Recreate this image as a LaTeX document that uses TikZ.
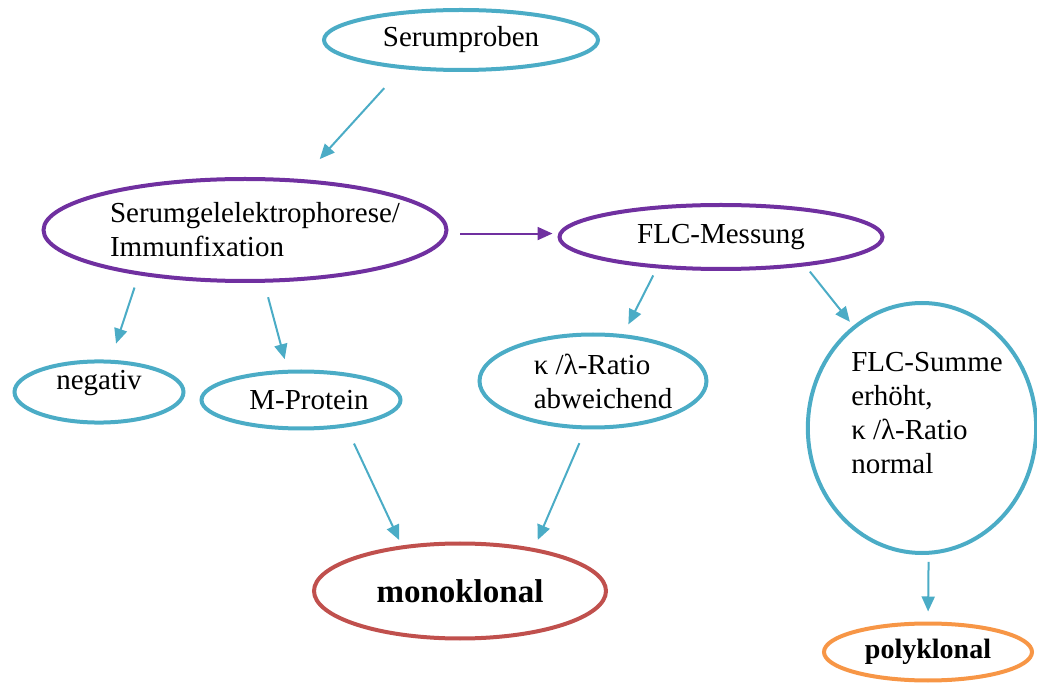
\documentclass[tikz,border=0pt]{standalone}
\usepackage{fontspec}
\setmainfont{Liberation Serif}
\usepackage{tikz}
\usetikzlibrary{shapes.geometric,arrows.meta}
\definecolor{aqua}{HTML}{4BACC6}
\definecolor{lila}{HTML}{7030A0}
\definecolor{rotbraun}{HTML}{C0504D}
\definecolor{orangeo}{HTML}{F79646}

\begin{document}
\begin{tikzpicture}[x=1pt,y=-1pt,
    oval/.style={ellipse,draw=aqua,line width=4pt,inner sep=0pt,
        font=\fontsize{29}{34}\selectfont},
    pfeil/.style={-{Triangle[length=15pt,width=13pt]},aqua,line width=2pt}]
    \useasboundingbox (0,0) rectangle (1037,684);
    \begin{scope} % Proben und Elektrophorese
        \node[oval,minimum width=274pt,minimum height=60pt] (serum) at (461,40) {Serumproben};
        \node[oval,draw=lila,align=left,inner xsep=-30pt,minimum width=403pt,minimum height=102pt]
            (gel) at (245,230) {\hspace*{20pt}Serumgelelektrophorese/\\\hspace*{20pt}Immunfixation};
        \node[oval,draw=lila,minimum width=323pt,minimum height=64pt] (flc) at (721,237) {FLC-Messung};
    \end{scope}
    \begin{scope} % Befunde
        \node[oval,minimum width=169pt,minimum height=55pt,text depth=24pt] (neg) at (99,392) {negativ};
        \node[oval,minimum width=199pt,minimum height=57pt] (mprot) at (301,400) {\hspace*{16pt}M-Protein};
        \node[oval,align=left,minimum width=227pt,minimum height=93pt]
            (ratio) at (593,381) {\hspace*{20pt}κ /λ-Ratio\\\hspace*{20pt}abweichend};
        \node[oval,align=left,minimum width=228pt,minimum height=250pt,text depth=30pt]
            (summe) at (922,428) {\hspace*{10pt}FLC-Summe\\\hspace*{10pt}erhöht,\\\hspace*{10pt}κ /λ-Ratio\\\hspace*{10pt}normal};
    \end{scope}
    \begin{scope} % Ergebnis
        \node[oval,draw=rotbraun,minimum width=292pt,minimum height=95pt,
            font=\fontsize{33}{40}\selectfont\bfseries] (mono) at (460,591) {monoklonal};
        \node[oval,draw=orangeo,minimum width=208pt,minimum height=57pt,
            font=\fontsize{28}{34}\selectfont\bfseries] (poly) at (928,652) {polyklonal};
    \end{scope}
    \begin{scope} % Pfeile
        \draw[pfeil,shorten <=26pt,shorten >=27pt] (serum.206) -- (gel.42);
        \draw[pfeil,lila,shorten <=12pt,shorten >=5pt] (gel.-1) -- (gel.-1 -| flc.west);
        \draw[pfeil,shorten <=13pt,shorten >=17pt] (gel.-157) -- (neg.70);
        \draw[pfeil,shorten <=15pt,shorten >=11pt] (gel.-70) -- (mprot.114);
        \draw[pfeil,shorten <=8pt,shorten >=11pt] (flc.-154) -- (ratio.57);
        \draw[pfeil,shorten <=7pt,shorten >=5pt] (flc.-19) -- (summe.124);
        \draw[pfeil,shorten <=18pt,shorten >=6pt] (mprot.-31) -- (mono.142);
        \draw[pfeil,shorten <=15pt,shorten >=9pt] (ratio.-99) -- (mono.30);
        \draw[pfeil,shorten <=7pt,shorten >=10pt] (summe.-87) -- (poly.north);
    \end{scope}
\end{tikzpicture}
\end{document}
